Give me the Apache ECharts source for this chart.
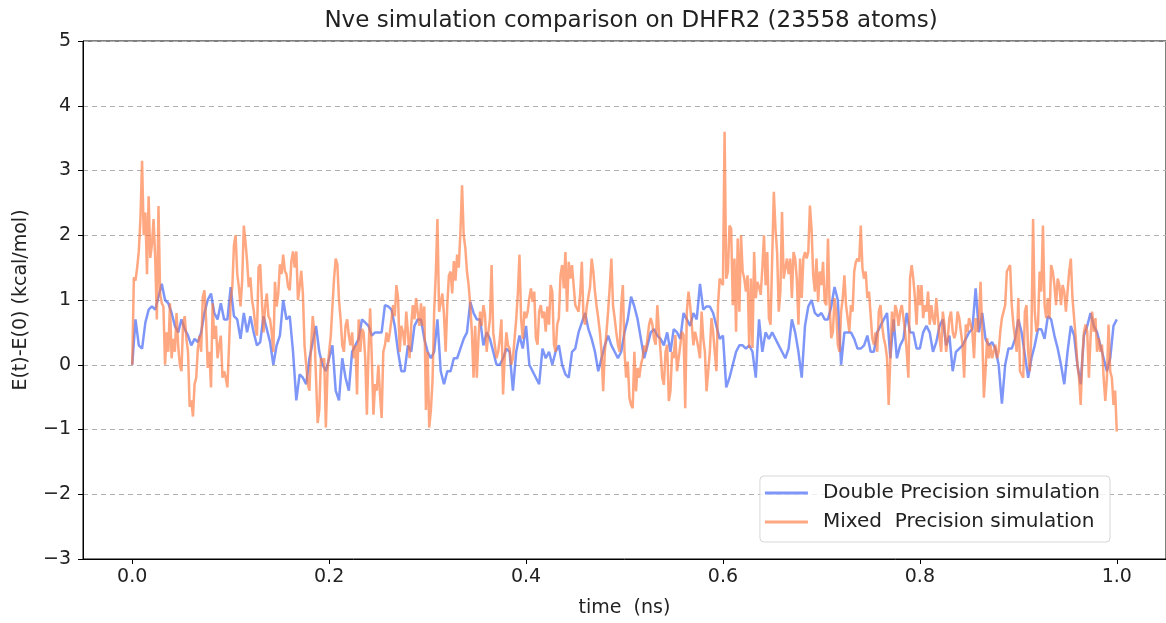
<!DOCTYPE html>
<html>
<head>
<meta charset="utf-8">
<script src="https://cdn.jsdelivr.net/npm/echarts@6/dist/echarts.min.js"></script>
<style>
html,body{margin:0;padding:0;background:#fff;}
#chart{width:1166px;height:623px;}
</style>
</head>
<body>
<div id="chart"></div>
<script>
const titleText = 'Nve simulation comparison on DHFR2 (23558 atoms)';
const seriesNames = ['Double Precision simulation', 'Mixed  Precision simulation'];
const xTicks = [0.0, 0.2, 0.4, 0.6, 0.8, 1.0];
const yTicks = [-3, -2, -1, 0, 1, 2, 3, 4, 5];
const tStart = 0.0;   // ns
const tEnd = 1.0;     // ns

// Double precision run: E(t)-E(0), kcal/mol, evenly sampled over 0..1 ns
const doublePrecision = [
 0.0,0.7,0.3,0.25,0.65,0.85,0.9,0.85,1.05,1.25,1.0,0.95,0.8,0.6,0.5,0.7,0.55,0.45,0.3,0.4,0.35,0.5,0.8,1.0,1.1,0.8,0.7,0.95,0.7,
 0.7,1.2,0.75,0.7,0.4,0.8,0.5,0.75,0.5,0.3,0.35,0.75,0.55,0.35,0.0,0.3,0.45,1.0,0.7,0.75,0.2,-0.55,-0.15,-0.2,-0.3,0.1,0.35,0.6,0.2,0.0,
 -0.1,0.1,0.3,-0.4,-0.55,0.1,-0.2,-0.4,0.2,0.3,0.4,0.7,0.65,0.6,0.45,0.5,0.5,0.5,0.92,0.9,0.85,0.6,0.2,-0.1,-0.1,0.3,0.2,0.6,0.7,0.7,
 0.4,0.2,0.1,0.2,0.7,-0.1,-0.3,-0.1,-0.1,0.1,0.1,0.25,0.4,0.5,0.97,0.8,0.7,0.7,0.3,0.5,0.4,0.2,0.0,0.0,0.1,0.25,0.2,-0.4,0.2,0.45,0.25,
 0.6,0.0,-0.1,-0.2,-0.3,0.25,0.1,0.2,0.0,0.2,0.3,0.0,-0.15,-0.2,0.2,0.25,0.5,0.65,0.8,0.55,0.4,0.2,-0.1,0.1,0.3,0.45,0.3,0.2,0.1,0.2,
 0.5,0.7,1.05,0.9,0.7,0.4,0.1,0.3,0.5,0.55,0.45,0.4,0.3,0.5,0.2,0.55,0.5,0.4,0.8,0.7,0.6,0.8,0.7,1.25,0.85,0.9,0.9,0.8,0.6,0.4,
 0.45,-0.35,-0.2,0.0,0.2,0.3,0.3,0.25,0.3,0.2,-0.2,0.7,0.2,0.5,0.4,0.5,0.4,0.3,0.2,0.1,0.25,0.7,0.5,0.2,-0.2,0.6,0.9,1.0,0.8,0.75,
 0.8,0.7,0.7,0.9,1.2,1.0,0.0,0.5,0.5,0.5,0.4,0.25,0.25,0.3,0.45,0.2,0.2,0.5,0.6,0.7,0.8,0.1,0.7,0.1,0.3,0.4,0.8,0.5,0.5,0.25,0.25,
 0.5,0.6,0.5,0.2,0.35,0.6,0.7,0.3,0.45,-0.1,0.2,0.25,0.3,0.4,0.5,0.55,1.18,0.5,0.8,0.4,0.3,0.35,0.25,0.0,-0.6,0.0,0.25,0.25,0.4,0.7,
 0.5,0.15,-0.2,0.1,0.3,0.55,0.55,0.4,0.75,0.7,0.45,0.25,0.0,-0.3,0.2,0.6,0.45,0.0,-0.3,0.45,0.6,0.8,0.6,0.5,0.3,0.1,-0.1,0.1,0.6,0.7
];

// Mixed precision run: E(t)-E(0), kcal/mol, evenly sampled over 0..1 ns
const mixedPrecision = [
 0.0,1.35,1.3,1.5,1.75,2.25,3.15,2.0,2.35,1.4,2.6,1.65,1.85,2.25,1.65,0.7,2.45,1.1,0.95,0.9,0.0,0.5,0.2,0.95,0.1,0.4,0.2,0.8,0.3,0.0,
 -0.1,0.65,0.75,0.4,0.2,-0.65,-0.55,-0.8,-0.3,-0.2,0.25,0.45,0.2,1.05,1.15,0.7,-0.05,0.2,-0.35,0.95,0.4,0.6,0.1,0.3,0.45,-0.2,-0.1,
 -0.2,-0.35,0.3,1.0,1.2,1.85,2.0,1.4,1.2,0.9,1.3,2.15,1.9,1.6,1.2,1.35,1.0,0.85,0.6,0.45,1.5,1.55,1.0,0.5,0.9,1.1,0.75,0.7,0.5,0.2,
 1.28,0.9,1.1,1.55,1.4,1.7,1.45,1.4,1.2,1.15,1.6,1.75,1.5,1.75,1.0,1.2,1.45,1.1,0.3,0.0,-0.3,-0.4,0.3,0.75,0.5,-0.2,-0.9,-0.7,0.1,0.05,
 0.1,-0.97,-0.1,0.2,0.45,0.9,1.33,1.64,1.55,1.0,0.7,0.3,0.2,0.6,0.7,0.45,0.3,0.5,0.1,0.3,-0.46,0.7,0.2,0.55,0.5,0.1,-0.77,0.2,0.87,0.1,
 -0.77,-0.3,-0.4,0.0,-0.46,-0.82,0.2,0.3,0.5,0.35,0.5,0.7,0.92,0.75,1.23,1.03,0.2,0.6,0.5,0.3,0.82,0.5,0.1,0.6,0.92,0.7,1.03,0.8,0.6,0.95,0.6,
 0.9,-0.7,0.2,-0.97,-0.7,-0.25,0.82,1.4,2.25,0.82,0.82,1.1,0.77,0.2,0.92,1.38,1.44,1.1,1.6,1.3,1.7,1.5,2.05,2.77,2.0,1.8,1.44,1.23,0.92,0.5,
 -0.2,0.6,-0.2,0.4,0.82,0.6,0.92,0.77,0.2,0.5,0.7,1.54,0.5,0.3,0.1,0.2,0.4,0.7,-0.46,0.1,0.5,0.3,0.25,0.0,0.1,0.4,0.7,1.1,1.7,0.7,0.4,
 0.82,0.72,0.82,1.03,1.18,0.97,1.13,0.41,0.31,0.82,0.92,0.72,0.82,0.51,0.9,0.62,1.23,1.13,0.31,0.2,0.62,0.72,1.38,1.54,1.18,1.74,0.82,1.59,1.33,1.54,
 1.23,0.92,0.92,0.82,1.1,1.59,0.72,0.62,0.9,0.87,1.2,1.64,1.44,1.13,0.9,0.72,0.5,0.2,-0.41,0.2,0.5,0.82,1.2,1.64,0.92,0.72,0.5,0.31,0.2,0.92,
 1.23,0.2,-0.2,0.05,-0.51,-0.62,-0.67,0.2,-0.41,-0.05,-0.2,0.0,0.1,0.3,0.2,0.41,0.62,0.72,0.62,0.4,0.31,0.92,0.51,0.2,-0.2,-0.31,0.2,0.31,-0.56,-0.41,
 0.2,0.1,0.46,-0.1,0.1,0.3,0.51,0.46,-0.67,0.82,1.13,0.92,0.62,0.3,0.51,0.4,0.26,0.1,0.82,0.41,0.2,-0.41,-0.41,0.2,0.72,0.51,0.2,-0.1,0.92,1.33,1.33,
 1.23,3.6,1.33,1.44,2.15,2.1,0.92,1.64,0.51,1.95,0.82,2.0,1.44,1.33,1.13,1.38,0.26,1.33,0.26,1.74,1.03,1.28,1.2,1.08,1.49,2.0,1.23,1.74,0.72,0.62,
 1.64,2.67,2.1,1.74,0.82,1.13,2.36,1.33,1.49,1.64,1.4,1.64,1.03,1.74,1.64,1.33,0.62,1.64,1.03,1.64,1.74,1.64,1.74,2.46,2.1,1.38,1.13,1.64,0.97,1.44,
 1.23,1.59,0.97,0.92,1.95,0.92,0.41,0.51,1.03,0.82,0.31,0.2,0.82,1.03,1.38,0.92,0.72,0.51,0.92,0.82,1.44,1.59,1.64,1.59,2.15,1.49,1.33,1.44,1.03,1.13,
 1.13,0.41,0.31,0.5,0.2,0.82,0.92,0.6,0.41,0.3,0.1,-0.62,0.1,0.82,0.51,0.92,0.82,0.6,0.82,0.92,0.72,0.51,0.2,-0.2,1.33,1.54,1.33,1.03,0.62,1.23,0.92,
 1.23,0.72,0.92,0.82,1.13,0.62,0.92,0.72,0.62,1.03,0.72,0.41,0.2,0.82,0.62,0.2,0.41,0.72,0.82,0.51,0.41,0.51,0.82,0.72,0.51,0.31,-0.2,0.62,0.51,0.72,
 0.62,0.51,0.1,0.72,0.51,0.72,1.28,0.51,-0.51,-0.1,0.41,0.1,0.31,0.1,0.2,0.31,0.1,0.2,0.51,0.72,0.82,0.92,1.44,1.49,1.54,0.92,0.62,0.41,0.2,1.03,-0.1,
 -0.1,-0.2,0.82,0.92,0.2,-0.1,0.51,2.25,0.82,0.51,0.62,1.44,1.13,2.15,0.92,0.72,1.03,0.72,1.54,1.44,1.23,0.92,1.33,1.23,0.92,1.23,1.13,0.82,1.13,1.44,
 1.64,1.03,0.72,0.41,0.0,-0.2,-0.62,0.1,0.51,0.62,0.51,-0.2,0.41,0.82,0.51,0.72,0.2,0.41,0.2,0.31,-0.2,-0.56,-0.2,0.62,-0.1,-0.2,-0.62,-0.4,-1.03
];

function withTime(values) {
  const n = values.length - 1;
  return values.map((v, i) => [tStart + (tEnd - tStart) * i / n, v]);
}

const fontFamily = 'DejaVu Sans';
const textColor = '#222';
const chart = echarts.init(document.getElementById('chart'), null, {renderer: 'canvas'});
chart.setOption({
  animation: false,
  backgroundColor: '#fff',
  title: {
    text: titleText,
    left: 626, top: 5, textAlign: 'center',
    textStyle: {fontFamily, fontSize: 23, fontWeight: 'normal', color: textColor}
  },
  grid: {left: 83, right: -4, top: 41, bottom: 62, show: true, borderColor: '#000', borderWidth: 1, backgroundColor: 'transparent'},
  legend: {
    orient: 'vertical',
    right: 56, top: 476,
    data: seriesNames,
    icon: 'rect',
    itemWidth: 43, itemHeight: 3,
    itemGap: 9,
    padding: [7, 10, 10, 5],
    borderColor: '#d6d6d6', borderWidth: 1, borderRadius: 4,
    backgroundColor: 'rgba(255,255,255,0.8)',
    textStyle: {fontFamily, fontSize: 20, color: textColor, padding: [0, 0, 0, 10]}
  },
  xAxis: {
    type: 'value', min: -0.05, max: 1.05,
    name: 'time  (ns)', nameLocation: 'middle', nameGap: 40,
    nameTextStyle: {fontFamily, fontSize: 19, color: textColor},
    axisLine: {onZero: false, lineStyle: {color: '#000', width: 1}},
    axisTick: {show: true, length: 5, lineStyle: {color: '#000'}, customValues: xTicks},
    axisLabel: {fontFamily, fontSize: 19, color: textColor, margin: 9, customValues: xTicks,
      formatter: v => v.toFixed(1)},
    splitLine: {show: false}
  },
  yAxis: {
    type: 'value', min: yTicks[0], max: yTicks[yTicks.length - 1], interval: 1,
    name: 'E(t)-E(0) (kcal/mol)', nameLocation: 'middle', nameGap: 52, nameRotate: 90,
    nameTextStyle: {fontFamily, fontSize: 19, color: textColor},
    axisLine: {show: true, onZero: false, lineStyle: {color: '#000', width: 1}},
    axisTick: {show: true, length: 5, lineStyle: {color: '#000'}},
    axisLabel: {fontFamily, fontSize: 19, color: textColor, margin: 12,
      formatter: v => String(v).replace('-', '\u2212')},
    splitLine: {show: true, lineStyle: {color: '#b0b0b0', type: [5, 4], width: 1}}
  },
  series: [
    {
      name: seriesNames[0], type: 'line', data: withTime(doublePrecision),
      showSymbol: false, symbol: 'none',
      lineStyle: {color: 'rgba(65,100,245,0.68)', width: 2.5},
      itemStyle: {color: 'rgba(65,100,245,0.68)'},
      z: 2
    },
    {
      name: seriesNames[1], type: 'line', data: withTime(mixedPrecision),
      showSymbol: false, symbol: 'none',
      lineStyle: {color: 'rgba(255,120,60,0.65)', width: 2.5},
      itemStyle: {color: 'rgba(255,120,60,0.65)'},
      z: 3
    }
  ]
});
</script>
</body>
</html>
